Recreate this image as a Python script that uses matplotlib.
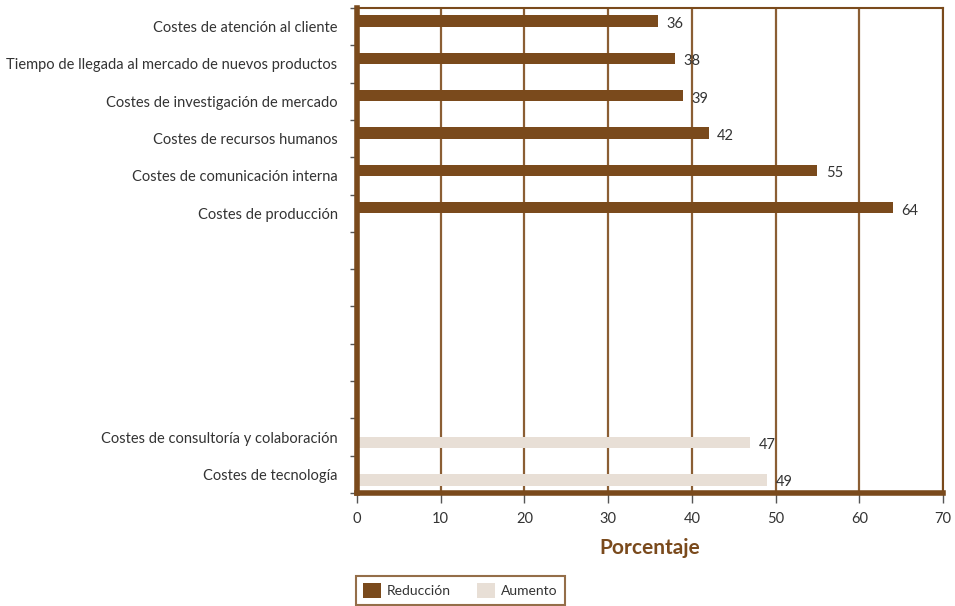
import matplotlib
matplotlib.use('Agg')
import matplotlib.pyplot as plt
from matplotlib.patches import Patch
import numpy as np

plt.rcParams['font.family'] = ['Lato', 'DejaVu Sans']

# ── datos ──
categorias = ['Costes de atención al cliente',
              'Tiempo de llegada al mercado de nuevos productos',
              'Costes de investigación de mercado',
              'Costes de recursos humanos',
              'Costes de comunicación interna',
              'Costes de producción',
              '', '', '', '', '',
              'Costes de consultoría y colaboración',
              'Costes de tecnología']
reduccion = [36, 38, 39, 42, 55, 64, None, None, None, None, None, None, None]
aumento = [None, None, None, None, None, None, None, None, None, None, None, 47, 49]
series_nombres = ['Reducción', 'Aumento']
x_ticks = [0, 10, 20, 30, 40, 50, 60, 70]

MARRON = '#7A4A1C'
BEIGE = '#E8DFD6'
GRID = '#8B5E34'
TEXTO = '#333333'

fig = plt.figure(figsize=(9.55, 6.06), dpi=100)
ax = fig.add_axes([357 / 955, 1 - 493 / 606, (943 - 357) / 955, (493 - 8) / 606])

y = np.arange(len(categorias))
w = 0.3
for i, v in enumerate(reduccion):
    if v is not None:
        ax.barh(y[i] - w / 2, v, height=w, color=MARRON, zorder=3)
        ax.text(v + 1.0, y[i] - w / 2 + 0.08, str(v), va='center', ha='left',
                fontsize=10.5, color=TEXTO, zorder=4)
for i, v in enumerate(aumento):
    if v is not None:
        ax.barh(y[i] + w / 2, v, height=w, color=BEIGE, zorder=3)
        ax.text(v + 1.0, y[i] + w / 2 + 0.05, str(v), va='center', ha='left',
                fontsize=10.5, color=TEXTO, zorder=4)

ax.set_xlim(0, 70)
ax.set_ylim(len(categorias) - 0.5, -0.5)
ax.set_xticks(x_ticks)
ax.set_xticklabels([str(t) for t in x_ticks], fontsize=10.5, color=TEXTO)

# ticks en los límites de cada categoría, etiquetas en el centro
ax.set_yticks(np.arange(-0.5, len(categorias), 1.0))
ax.set_yticklabels([])
ax.set_yticks(y, minor=True)
ax.set_yticklabels(categorias, minor=True, fontsize=10.5, color=TEXTO)
ax.tick_params(axis='y', which='minor', length=0, pad=14)
ax.tick_params(axis='y', which='major', length=5, color='#555555', width=1)
ax.tick_params(axis='x', length=7, color='#555555', width=1, pad=7)

ax.grid(axis='x', color=GRID, linewidth=1.6, zorder=1)
for side, lw in [('left', 4), ('bottom', 4), ('top', 1.5), ('right', 1.5)]:
    ax.spines[side].set_color(MARRON)
    ax.spines[side].set_linewidth(lw)
    ax.spines[side].set_zorder(5)

ax.set_xlabel('Porcentaje', fontsize=15, fontweight='bold', color=MARRON, labelpad=8)

handles = [Patch(facecolor=MARRON, edgecolor='none'),
           Patch(facecolor=BEIGE, edgecolor='none')]
leg = fig.legend(handles, series_nombres, ncol=2, loc='lower left',
                 bbox_to_anchor=(355 / 955, 0.0), frameon=True, fancybox=False,
                 fontsize=10, handlelength=1.3, handleheight=1.3,
                 handletextpad=0.4, columnspacing=1.9, borderaxespad=0.1,
                 borderpad=0.5)
leg.get_frame().set_edgecolor(MARRON)
leg.get_frame().set_linewidth(1.5)
for t in leg.get_texts():
    t.set_color(TEXTO)

fig.savefig('out.png', dpi=100, facecolor='white')
